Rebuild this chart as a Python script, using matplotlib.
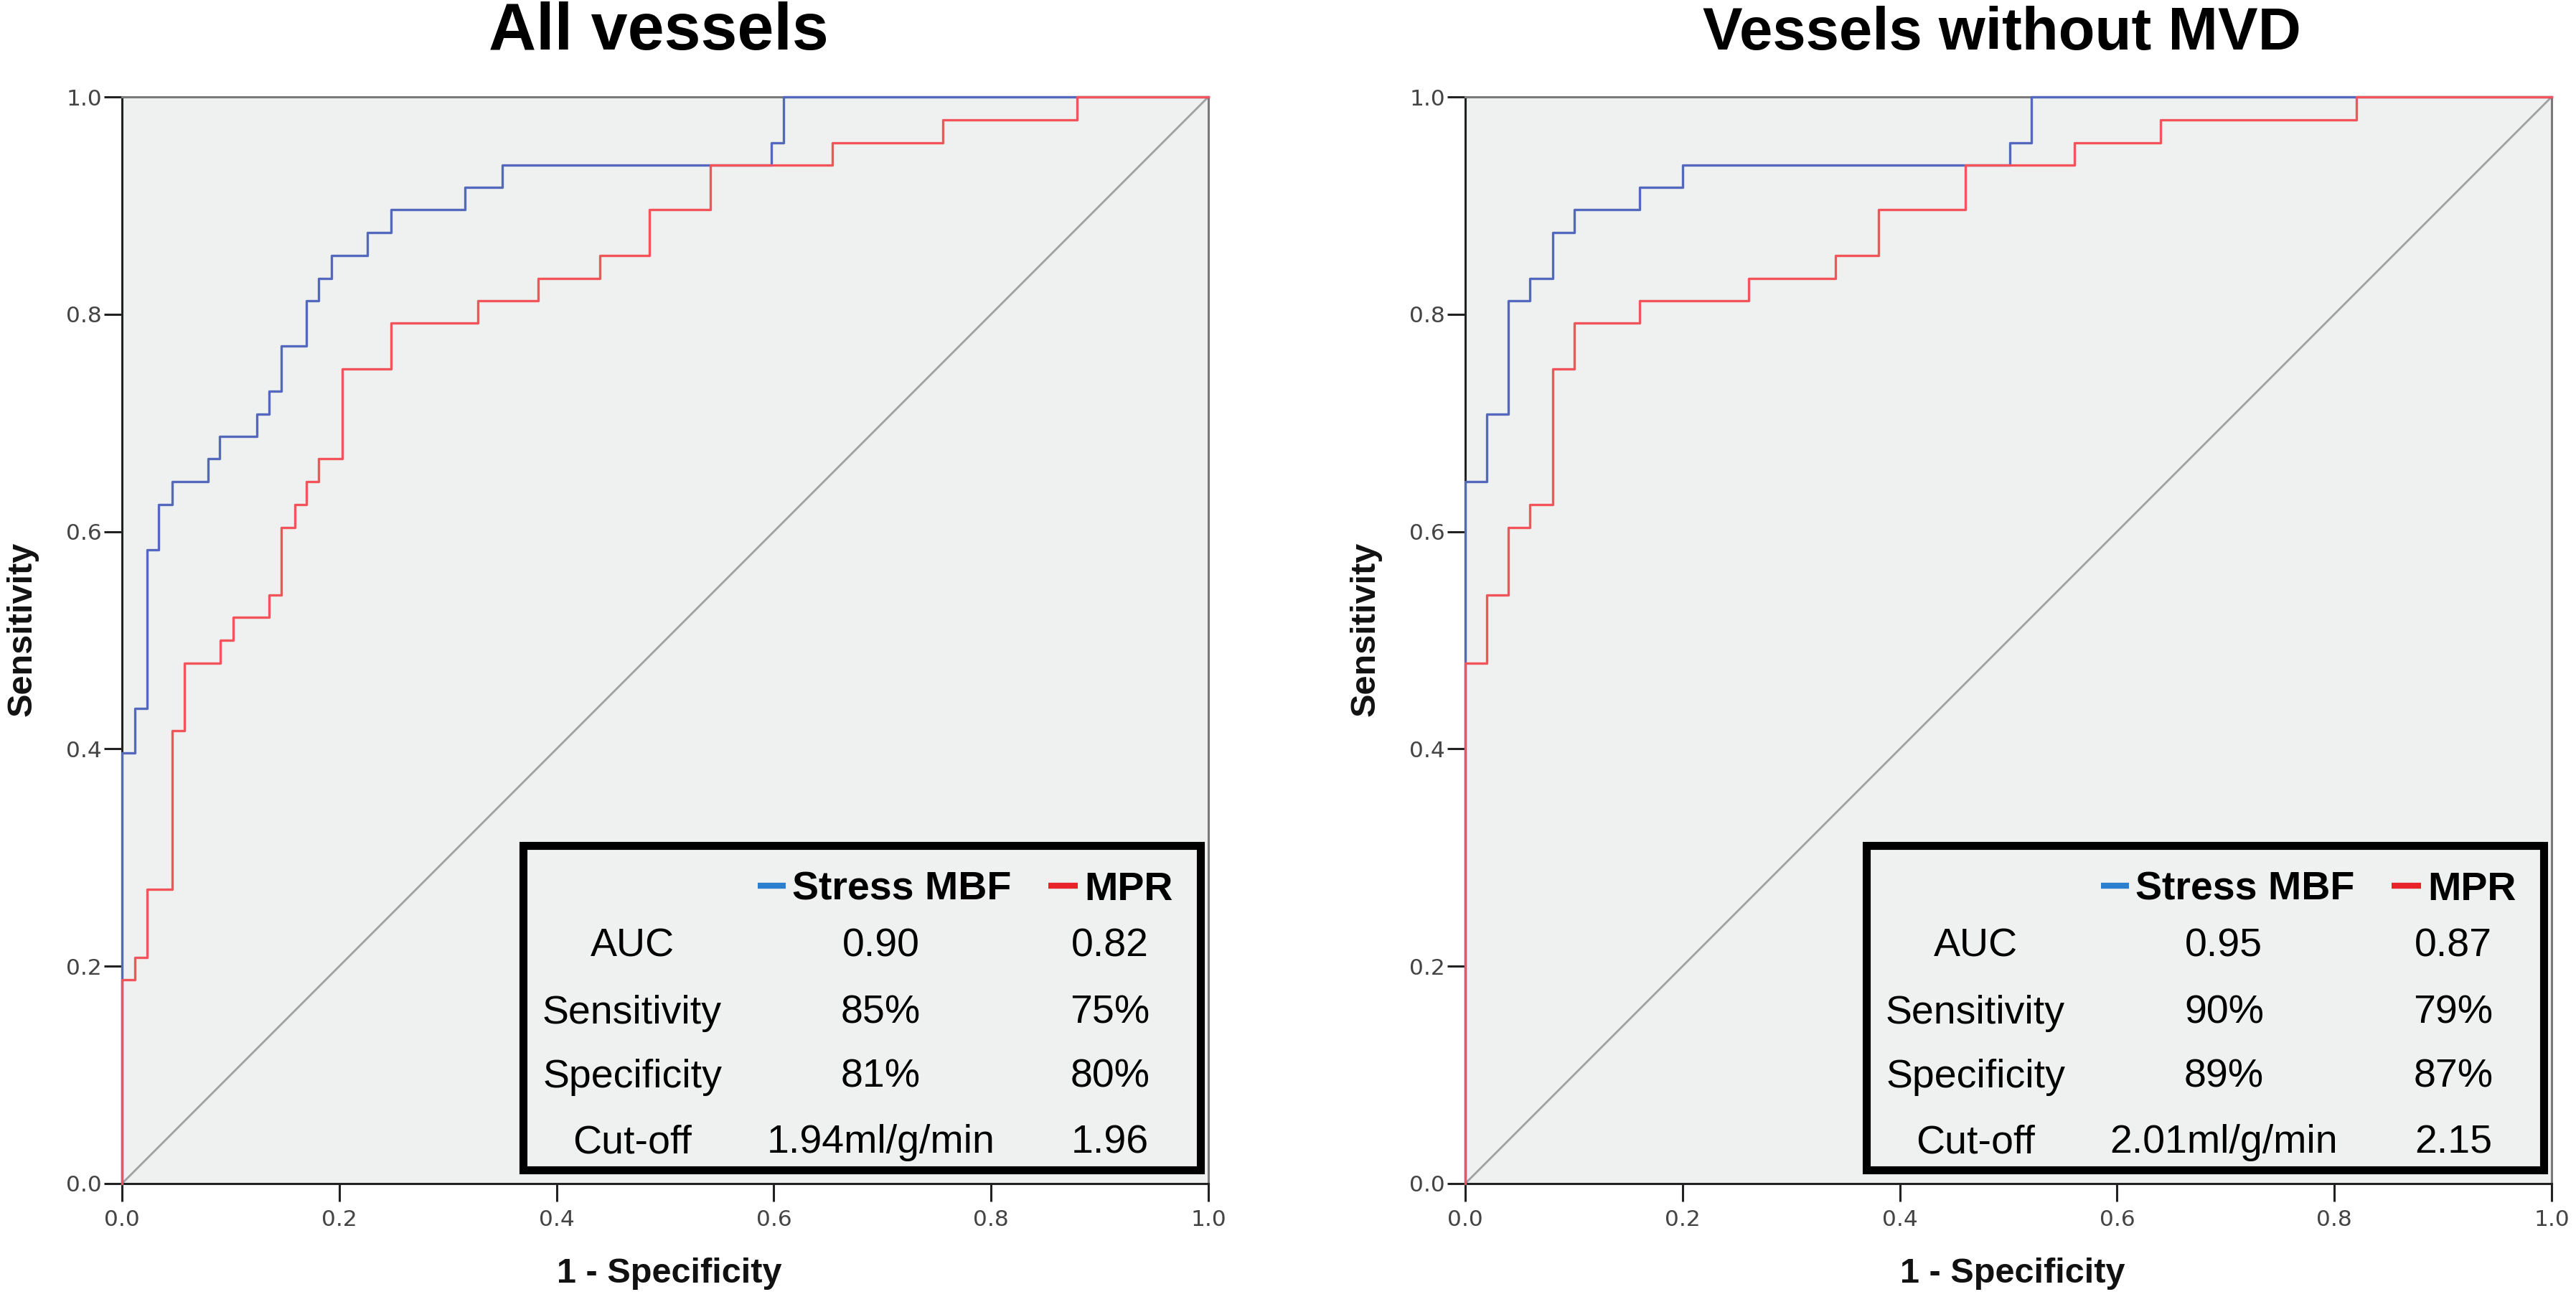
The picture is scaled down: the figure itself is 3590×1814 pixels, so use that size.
import matplotlib
matplotlib.use("Agg")
import matplotlib.pyplot as plt
from matplotlib.patches import Rectangle

# ---------------------------------------------------------------------------
# data
# ---------------------------------------------------------------------------
titles = ["All vessels", "Vessels without MVD"]

# left: all vessels
all_mbf_fpr = [0, 0, 0.012, 0.023, 0.034, 0.046, 0.079, 0.090, 0.1245, 0.1356, 0.1467,
               0.1697, 0.1808, 0.1926, 0.2257, 0.2476, 0.3158, 0.3502, 0.598, 0.609, 1.0]
all_mbf_tpr = [0, 0.396, 0.4375, 0.583, 0.625, 0.646, 0.667, 0.6875, 0.708, 0.729, 0.771,
               0.8125, 0.833, 0.854, 0.875, 0.896, 0.917, 0.9375, 0.958, 1.0, 1.0]
all_mpr_fpr = [0, 0, 0.012, 0.023, 0.046, 0.0576, 0.0904, 0.1022, 0.1356, 0.1467, 0.1589,
               0.1697, 0.1808, 0.2027, 0.2476, 0.3276, 0.3833, 0.4399, 0.4855, 0.5416,
               0.6542, 0.7554, 0.879, 1.0]
all_mpr_tpr = [0, 0.1875, 0.208, 0.271, 0.4167, 0.479, 0.5, 0.521, 0.5417, 0.604, 0.625,
               0.646, 0.667, 0.75, 0.7917, 0.8125, 0.833, 0.854, 0.896, 0.9375,
               0.958, 0.979, 1.0, 1.0]

# right: vessels without MVD
nomvd_mbf_fpr = [0, 0, 0.0196, 0.0395, 0.0597, 0.0803, 0.1005, 0.1603, 0.2, 0.501, 0.5213, 1.0]
nomvd_mbf_tpr = [0, 0.646, 0.708, 0.8125, 0.833, 0.875, 0.896, 0.917, 0.9375, 0.958, 1.0, 1.0]
nomvd_mpr_fpr = [0, 0, 0.0196, 0.0395, 0.0597, 0.0803, 0.1005, 0.1603, 0.2608, 0.3408,
                 0.3806, 0.4607, 0.561, 0.6403, 0.8206, 1.0]
nomvd_mpr_tpr = [0, 0.479, 0.5417, 0.604, 0.625, 0.75, 0.7917, 0.8125, 0.833, 0.854,
                 0.896, 0.9375, 0.958, 0.979, 1.0, 1.0]

row_labels = ["AUC", "Sensitivity", "Specificity", "Cut-off"]
all_mbf_stats = ["0.90", "85%", "81%", "1.94ml/g/min"]
all_mpr_stats = ["0.82", "75%", "80%", "1.96"]
nomvd_mbf_stats = ["0.95", "90%", "89%", "2.01ml/g/min"]
nomvd_mpr_stats = ["0.87", "79%", "87%", "2.15"]

series_names = ["Stress MBF", "MPR"]
ticks = [0.0, 0.2, 0.4, 0.6, 0.8, 1.0]

BG = "#eff1f0"
CURVE_BLUE = "#5468bd"
CURVE_RED = "#f2545a"
KEY_BLUE = "#2a7fcf"
KEY_RED = "#e8232a"
SANS = "Liberation Sans"

panels = [
    (titles[0], all_mbf_fpr, all_mbf_tpr, all_mpr_fpr, all_mpr_tpr, all_mbf_stats, all_mpr_stats),
    (titles[1], nomvd_mbf_fpr, nomvd_mbf_tpr, nomvd_mpr_fpr, nomvd_mpr_tpr, nomvd_mbf_stats, nomvd_mpr_stats),
]

fig = plt.figure(figsize=(35.9, 18.14), dpi=100)
lefts = [170 / 3590, 2042 / 3590]
W, H = 1514 / 3590, 1514 / 1814
B = 1 - 1649 / 1814
# title centres / sizes as they sit in the reference (not quite centred on the axes)
title_x = [918 / 3590, 2790 / 3590]
title_size = [66, 60]

for i, (title, bx, by, rx, ry, bstats, rstats) in enumerate(panels):
    ax = fig.add_axes([lefts[i], B, W, H])
    ax.set_facecolor(BG)
    ax.set_xlim(0, 1)
    ax.set_ylim(0, 1)

    ax.plot([0, 1], [0, 1], color="#a0a0a0", lw=2.0, zorder=2)
    ax.plot(bx, by, drawstyle="steps-post", color=CURVE_BLUE, lw=2.4, zorder=3, clip_on=False)
    ax.plot(rx, ry, drawstyle="steps-post", color=CURVE_RED, lw=2.4, zorder=4, clip_on=False)

    for side in ["left", "bottom"]:
        ax.spines[side].set_color("#222222")
        ax.spines[side].set_linewidth(2.2)
    for side in ["top", "right"]:
        ax.spines[side].set_color("#7a7a7a")
        ax.spines[side].set_linewidth(2.2)

    ax.set_xticks(ticks)
    ax.set_yticks(ticks)
    ax.set_xticklabels([f"{t:.1f}" for t in ticks])
    ax.set_yticklabels([f"{t:.1f}" for t in ticks])
    ax.tick_params(axis="both", direction="out", length=18, width=2.2, color="#222222",
                   labelsize=22.5, labelcolor="#444444")
    ax.tick_params(axis="x", pad=8)
    ax.tick_params(axis="y", pad=2)
    for lab in ax.get_xticklabels() + ax.get_yticklabels():
        lab.set_family("DejaVu Sans")

    ax.text(0.504, -0.083, "1 - Specificity", transform=ax.transAxes, ha="center", va="center",
            fontsize=35, fontweight="bold", family=SANS, color="#111111")
    ax.text(-0.092, 0.51, "Sensitivity", transform=ax.transAxes, ha="center", va="center",
            rotation=90, fontsize=35, fontweight="bold", family=SANS, color="#111111")

    fig.text(title_x[i], 1 - 69 / 1814, title, ha="center", va="baseline",
             fontsize=title_size[i], fontweight="bold", family=SANS)

    # stats box
    box = Rectangle((0.369, 0.0127), 0.6235, 0.2983, transform=ax.transAxes,
                    facecolor=BG, edgecolor="black", lw=8, zorder=5)
    ax.add_patch(box)

    hy = 0.261
    ax.plot([0.585, 0.611], [hy + 0.013, hy + 0.013], transform=ax.transAxes,
            color=KEY_BLUE, lw=6, solid_capstyle="butt", zorder=6)
    ax.text(0.617, hy, series_names[0], transform=ax.transAxes, ha="left", va="baseline",
            fontsize=40, fontweight="bold", family=SANS, zorder=6)
    ax.plot([0.8525, 0.8796], [hy + 0.013, hy + 0.013], transform=ax.transAxes,
            color=KEY_RED, lw=6, solid_capstyle="butt", zorder=6)
    ax.text(0.8856, hy, series_names[1], transform=ax.transAxes, ha="left", va="baseline",
            fontsize=40, fontweight="bold", family=SANS, zorder=6)

    row_y = [0.209, 0.1475, 0.0886, 0.0284]
    for y, lab, bv, rv in zip(row_y, row_labels, bstats, rstats):
        ax.text(0.4696, y, lab, transform=ax.transAxes, ha="center", va="baseline",
                fontsize=40, family=SANS, zorder=6)
        ax.text(0.6984, y, bv, transform=ax.transAxes, ha="center", va="baseline",
                fontsize=40, family=SANS, zorder=6)
        ax.text(0.9094, y, rv, transform=ax.transAxes, ha="center", va="baseline",
                fontsize=40, family=SANS, zorder=6)

fig.savefig("out.png", dpi=100, facecolor="white")
